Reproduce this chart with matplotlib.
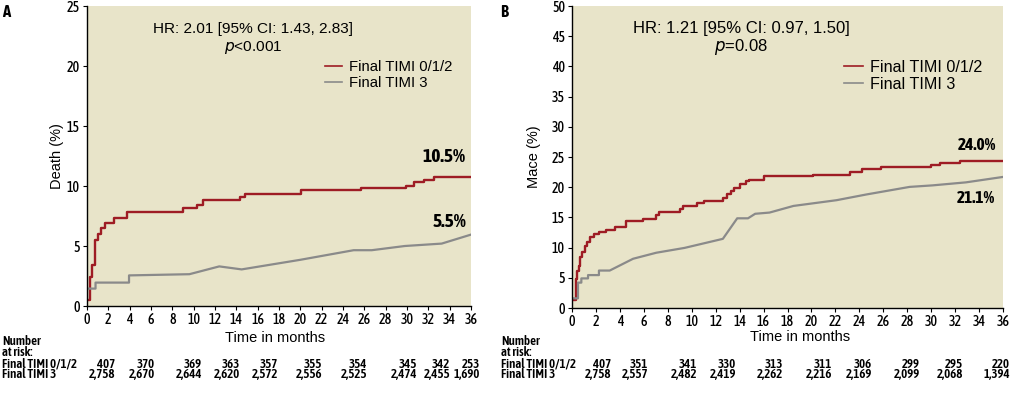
import matplotlib
matplotlib.use("Agg")
import matplotlib.pyplot as plt

# ---- data ----
# panel A: death
a_red_t = [0, 0.25, 0.47, 0.72, 1.03, 1.34, 1.66, 2.5, 3.75, 9.0, 10.35, 10.9,
           14.3, 14.85, 20.1, 25.7, 29.9, 30.65, 31.6, 32.5, 36]
a_red_y = [0.5, 2.4, 3.4, 5.5, 6.0, 6.5, 6.95, 7.35, 7.85, 8.15, 8.45, 8.8,
           9.05, 9.35, 9.65, 9.8, 10.0, 10.3, 10.5, 10.75, 10.75]
a_gray_t = [0, 0, 0.8, 0.8, 3.94, 3.94, 9.6, 12.4, 14.5, 20.0, 25.0, 26.7,
            29.8, 33.25, 36]
a_gray_y = [0.6, 1.45, 1.45, 1.95, 1.95, 2.55, 2.65, 3.3, 3.05, 3.85, 4.65,
            4.65, 5.0, 5.2, 5.95]

# panel B: MACE
b_red_t = [0, 0.3, 0.42, 0.56, 0.7, 0.86, 1.09, 1.25, 1.48, 1.84, 2.25, 2.8,
           3.56, 4.54, 5.93, 6.99, 7.27, 8.99, 9.27, 10.47, 11.02, 12.6,
           12.97, 13.25, 13.5, 14.0, 14.5, 14.8, 16.0, 20.1, 23.2, 24.2,
           25.8, 30.0, 30.7, 32.4, 36]
b_red_y = [1.3, 4.8, 6.2, 7.0, 8.5, 9.3, 10.2, 10.9, 11.7, 12.3, 12.65, 12.95,
           13.35, 14.35, 14.7, 15.35, 15.85, 16.4, 16.9, 17.4, 17.7, 18.25,
           18.85, 19.3, 19.8, 20.5, 20.95, 21.25, 21.8, 22.1, 22.45, 23.0,
           23.3, 23.7, 24.0, 24.4, 24.4]
b_gray_t = [0, 0.5, 0.5, 0.78, 0.78, 1.34, 1.34, 2.25, 2.25, 3.15, 5.1, 7.04,
            9.4, 12.6, 13.8, 14.7, 15.3, 16.5, 18.5, 22.1, 24.6, 28.2, 30.1,
            32.9, 36]
b_gray_y = [1.6, 1.6, 4.2, 4.2, 4.9, 4.9, 5.45, 5.45, 6.2, 6.2, 8.15, 9.15,
            9.95, 11.45, 14.85, 14.85, 15.6, 15.8, 16.9, 17.85, 18.8, 20.05,
            20.3, 20.8, 21.7]

series_labels = ["Final TIMI 0/1/2", "Final TIMI 3"]

a_risk_red = ["407", "370", "369", "363", "357", "355", "354", "345", "342", "253"]
a_risk_gray = ["2,758", "2,670", "2,644", "2,620", "2,572", "2,556", "2,525",
               "2,474", "2,455", "1,690"]
b_risk_red = ["407", "351", "341", "330", "313", "311", "306", "299", "295", "220"]
b_risk_gray = ["2,758", "2,557", "2,482", "2,419", "2,262", "2,216", "2,169",
               "2,099", "2,068", "1,394"]

# ---- styling ----
W, H = 1011, 395
BG = "#E8E4C9"
RED = "#9E1C24"
GRAY = "#8A8A8A"
NARROW = ["Asap Condensed", "DejaVu Sans"]
SANS = ["Liberation Sans", "DejaVu Sans"]

plt.rcParams["font.family"] = SANS

fig = plt.figure(figsize=(W / 100, H / 100), dpi=100)


def px(x, y):
    return x / W, 1 - y / H


def make_panel(rect, ymax, ystep, ylabel, pad, red_t, red_y, gray_t, gray_y):
    ax = fig.add_axes(rect)
    ax.set_facecolor(BG)
    ax.step(red_t, red_y, where="post", color=RED, lw=1.7, label=series_labels[0])
    ax.plot(gray_t, gray_y, color=GRAY, lw=1.6, label=series_labels[1])
    ax.set_xlim(0, 36)
    ax.set_ylim(0, ymax)
    ax.set_xticks(range(0, 37, 2))
    ax.set_yticks(range(0, ymax + 1, ystep))
    for s in ["top", "right"]:
        ax.spines[s].set_visible(False)
    for s in ["left", "bottom"]:
        ax.spines[s].set_linewidth(1.0)
    ax.tick_params(length=3, width=0.8, pad=2, labelsize=10)
    for lab in ax.get_xticklabels() + ax.get_yticklabels():
        lab.set_family(NARROW)
        lab.set_fontweight(500)
    ax.set_ylabel(ylabel, fontsize=10.5, labelpad=pad)
    return ax


axA = make_panel([87 / W, 89 / H, 384 / W, 300 / H], 25, 5, "Death (%)", 2,
                 a_red_t, a_red_y, a_gray_t, a_gray_y)
axB = make_panel([572 / W, 87 / H, 431 / W, 302 / H], 50, 5, "Mace (%)", 8,
                 b_red_t, b_red_y, b_gray_t, b_gray_y)

for ax, lx, ly, fs in [(axA, 325, 60, 10.7), (axB, 844, 60, 11.6)]:
    leg = ax.legend(loc="upper left", bbox_to_anchor=px(lx, ly),
                    bbox_transform=fig.transFigure, frameon=False, fontsize=fs,
                    handlelength=1.15, handletextpad=0.45, borderpad=0,
                    labelspacing=0.12, borderaxespad=0)
    for line in leg.get_lines():
        line.set_linewidth(1.2)

# HR / p-value text
fig.text(*px(253, 29), "HR: 2.01 [95% CI: 1.43, 2.83]", ha="center",
         va="center", fontsize=11.1)
fig.text(*px(253, 47), r"$\it{p}$<0.001", ha="center", va="center", fontsize=11.1)
fig.text(*px(741, 29), "HR: 1.21 [95% CI: 0.97, 1.50]", ha="center",
         va="center", fontsize=12)
fig.text(*px(741, 47), r"$\it{p}$=0.08", ha="center", va="center", fontsize=12)

# end-point rates
axA.text(33.5, 12.4, "10.5%", ha="center", va="center", fontsize=14,
         fontweight="bold", family=NARROW)
axA.text(34.0, 7.0, "5.5%", ha="center", va="center", fontsize=14,
         fontweight="bold", family=NARROW)
axB.text(33.8, 27.0, "24.0%", ha="center", va="center", fontsize=12.5,
         fontweight="bold", family=NARROW)
axB.text(33.75, 18.2, "21.1%", ha="center", va="center", fontsize=12.5,
         fontweight="bold", family=NARROW)

# panel letters
fig.text(*px(2, 12), "A", fontsize=12, fontweight="bold", family=NARROW,
         va="center")
fig.text(*px(500, 12), "B", fontsize=12, fontweight="bold", family=NARROW,
         va="center")

# x labels
fig.text(*px(275, 338), "Time in months", ha="center", va="center", fontsize=10.5)
fig.text(*px(800, 337), "Time in months", ha="center", va="center", fontsize=10.5)

# number-at-risk tables
a_cols = [115, 155, 202, 240, 278, 322, 367, 417, 450, 480]
b_cols = [611, 648, 697, 736, 783, 832, 872, 920, 963, 1010]
for x0, cols, red_vals, gray_vals in [(2, a_cols, a_risk_red, a_risk_gray),
                                      (501, b_cols, b_risk_red, b_risk_gray)]:
    kw = dict(fontsize=9.3, fontweight=600, family=NARROW, va="center")
    fig.text(*px(x0, 341.5), "Number", **kw)
    fig.text(*px(x0, 352.5), "at risk:", **kw)
    fig.text(*px(x0, 364), series_labels[0], **kw)
    fig.text(*px(x0, 375), series_labels[1], **kw)
    for x, r, g in zip(cols, red_vals, gray_vals):
        fig.text(*px(x, 364), r, ha="right", **kw)
        fig.text(*px(x, 375), g, ha="right", **kw)

fig.savefig("out.png", dpi=100)
